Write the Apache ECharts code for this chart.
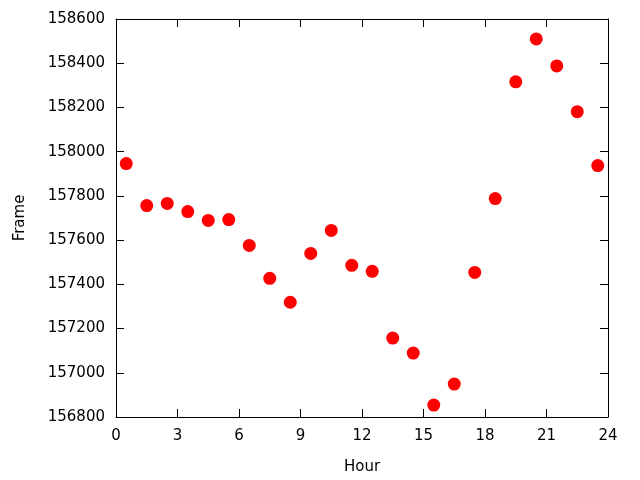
<!DOCTYPE html>
<html>
<head>
<meta charset="utf-8">
<script src="https://cdn.jsdelivr.net/npm/echarts@6/dist/echarts.min.js"></script>
<style>html,body{margin:0;padding:0;background:#fff}#c{width:640px;height:480px}</style>
</head>
<body>
<div id="c"></div>
<script>
const hours = [0.5,1.5,2.5,3.5,4.5,5.5,6.5,7.5,8.5,9.5,10.5,11.5,12.5,13.5,14.5,15.5,16.5,17.5,18.5,19.5,20.5,21.5,22.5,23.5];
const frames = [157946,157756,157766,157729,157689,157693,157576,157427,157319,157540,157644,157486,157459,157157,157089,156854,156949,157454,157788,158316,158510,158388,158181,157937];
const xTicks = [0,3,6,9,12,15,18,21,24];
const yTicks = [156800,157000,157200,157400,157600,157800,158000,158200,158400,158600];

const font = 'DejaVu Sans';
const chart = echarts.init(document.getElementById('c'), null, {renderer:'canvas'});
const lineStyle = {color:'#000', width:1};
const data = hours.map((h,i)=>[h, frames[i]]);
chart.setOption({
  animation:false,
  backgroundColor:'#fff',
  grid:{left:116, right:32, top:19, bottom:62, containLabel:false},
  xAxis:[{
    type:'value', min:xTicks[0], max:xTicks[xTicks.length-1], interval:3,
    name:'Hour', nameLocation:'middle', nameGap:43,
    nameTextStyle:{fontFamily:font, fontSize:15, color:'#000'},
    axisLine:{onZero:false, lineStyle},
    axisTick:{inside:true, length:8, lineStyle},
    axisLabel:{fontFamily:font, fontSize:15, color:'#000', margin:12, formatter:v=>String(v)},
    splitLine:{show:false}
  },{
    type:'value', position:'top', min:xTicks[0], max:xTicks[xTicks.length-1], interval:3,
    axisLine:{onZero:false, lineStyle},
    axisTick:{inside:true, length:8, lineStyle},
    axisLabel:{show:false}, splitLine:{show:false}
  }],
  yAxis:[{
    type:'value', min:yTicks[0], max:yTicks[yTicks.length-1], interval:200,
    name:'Frame', nameLocation:'middle', nameGap:88, nameRotate:90,
    nameTextStyle:{fontFamily:font, fontSize:15, color:'#000'},
    axisLine:{show:true, onZero:false, lineStyle},
    axisTick:{show:true, inside:true, length:8, lineStyle},
    axisLabel:{fontFamily:font, fontSize:15, color:'#000', margin:11, formatter:v=>String(v)},
    splitLine:{show:false}
  },{
    type:'value', position:'right', min:yTicks[0], max:yTicks[yTicks.length-1], interval:200,
    axisLine:{show:true, onZero:false, lineStyle},
    axisTick:{show:true, inside:true, length:8, lineStyle},
    axisLabel:{show:false}, splitLine:{show:false}
  }],
  series:[{
    type:'scatter', xAxisIndex:0, yAxisIndex:0,
    data, symbol:'circle', symbolSize:13,
    itemStyle:{color:'#ff0000', opacity:1}
  }]
});
</script>
</body>
</html>
